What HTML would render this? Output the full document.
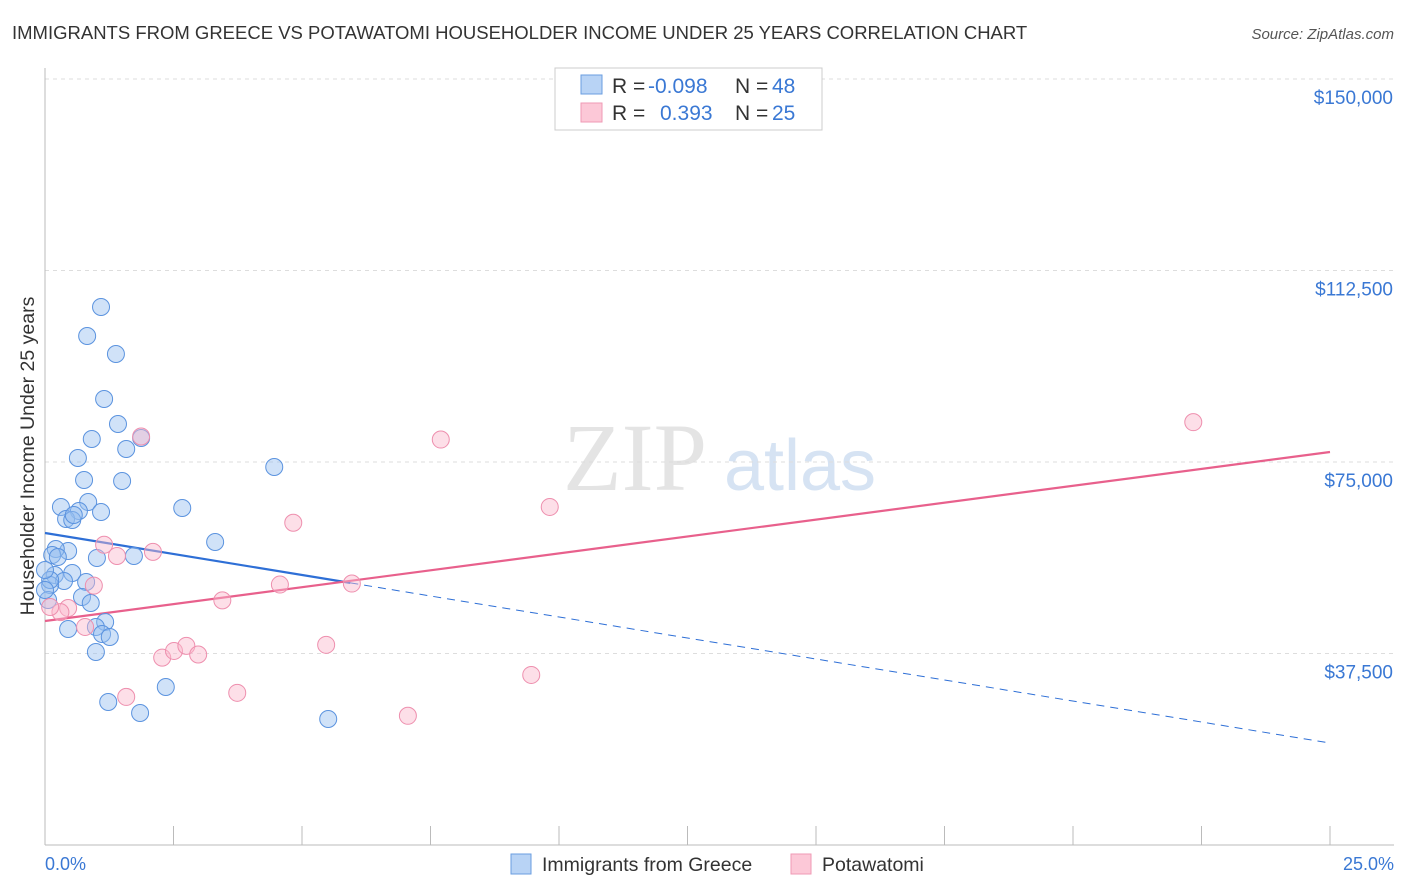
<!DOCTYPE html>
<html><head><meta charset="utf-8"><style>
body{margin:0;background:#fff;font-family:"Liberation Sans",sans-serif;}
</style></head><body>
<svg id="chart" width="1406" height="892" xmlns="http://www.w3.org/2000/svg" style="display:block">
<text x="12" y="39" font-size="18.5" fill="#333">IMMIGRANTS FROM GREECE VS POTAWATOMI HOUSEHOLDER INCOME UNDER 25 YEARS CORRELATION CHART</text>
<text x="1394" y="39" font-size="15" fill="#555" font-style="italic" text-anchor="end">Source: ZipAtlas.com</text>
<text x="635" y="490" font-size="96" fill="#e4e4e4" font-family="Liberation Serif,serif" text-anchor="middle">ZIP</text>
<text x="800" y="490" font-size="72" fill="#d6e3f3" text-anchor="middle">atlas</text>
<g id="grid"></g>
<line x1="45" y1="68" x2="45" y2="845" stroke="#bbb"/>
<line x1="45" y1="845" x2="1394" y2="845" stroke="#bbb"/>
<g id="xticks"></g>
<g id="lines"></g>
<g id="points"></g>
<text transform="translate(34,456) rotate(-90)" font-size="19.5" fill="#333" text-anchor="middle">Householder Income Under 25 years</text>
<text x="45" y="870" font-size="18" fill="#3a78d4">0.0%</text>
<text x="1394" y="870" font-size="18" fill="#3a78d4" text-anchor="end">25.0%</text>
<g>
<rect x="555" y="68" width="267" height="62" fill="#fff" stroke="#ccc"/>
<rect x="581" y="75" width="21" height="19" fill="#b8d3f5" stroke="#6a9ee0"/>
<rect x="581" y="103" width="21" height="19" fill="#fcc8d7" stroke="#ef9ab4"/>
<text x="612" y="93" font-size="21" fill="#333">R =<tspan x="648" fill="#3a78d4">-0.098</tspan><tspan x="735">N =</tspan><tspan x="772" fill="#3a78d4">48</tspan></text>
<text x="612" y="120" font-size="21" fill="#333">R =<tspan x="660" fill="#3a78d4">0.393</tspan><tspan x="735">N =</tspan><tspan x="772" fill="#3a78d4">25</tspan></text>
</g>
<g>
<rect x="511" y="854" width="20" height="20" fill="#b8d3f5" stroke="#6a9ee0"/>
<text x="542" y="871" font-size="19.5" fill="#333">Immigrants from Greece</text>
<rect x="791" y="854" width="20" height="20" fill="#fcc8d7" stroke="#ef9ab4"/>
<text x="822" y="871" font-size="19.5" fill="#333">Potawatomi</text>
</g>
</svg>
<script>
const yTicks=[37500,75000,112500,150000];
const yTickLabels=["$37,500","$75,000","$112,500","$150,000"];
const xTicks=[0,2.5,5,7.5,10,12.5,15,17.5,20,22.5,25];
const greeceX=[1.09,0.82,1.38,1.15,1.42,0.91,1.87,1.58,0.64,0.76,1.50,4.46,0.84,0.31,2.67,0.66,1.09,0.41,0.53,0.56,3.31,0.45,0.21,0.14,0.25,1.01,1.73,0.53,0.19,0.37,0.80,0.10,0.10,0.72,0.89,1.17,0.99,0.45,1.11,1.26,0.99,2.35,1.23,1.85,5.51,0.06,0.0,0.0];
const greeceY=[105350,99670,96150,87340,82440,79500,79700,77550,75780,71480,71280,74020,67170,66190,65990,65400,65210,63840,63640,64620,59330,57570,57960,56790,56400,56200,56590,53260,52870,51700,51500,50910,51890,48560,47390,43670,42690,42300,41320,40730,37790,30940,28000,25850,24670,47980,49940,53850];
const potaX=[1.87,7.7,22.34,9.82,4.83,1.15,2.1,1.4,4.57,5.97,0.95,3.45,0.45,0.3,0.78,0.1,2.28,2.51,2.75,2.98,5.47,3.74,1.58,9.46,7.06];
const potaY=[80000,79400,82800,66200,63100,58800,57400,56600,51000,51200,50800,47900,46400,45600,42700,46600,36700,38000,39000,37300,39200,29800,29000,33300,25300];
const greeceFit=[61100,19970];
const potaFit=[43860,76960];
const X0=45,X1=1330,Y0=845,YPX=191.5/37500;
const sx=v=>X0+(v/25)*(X1-X0);
const sy=v=>Y0-v*YPX;
const NS="http://www.w3.org/2000/svg";
function mk(tag,attrs,parent){const e=document.createElementNS(NS,tag);for(const k in attrs)e.setAttribute(k,attrs[k]);parent.appendChild(e);return e;}
const grid=document.getElementById('grid');
yTicks.forEach((t,i)=>{
 const l=mk('line',{x1:45,x2:1394,y1:sy(t),y2:sy(t),stroke:'#ddd','stroke-dasharray':'4,4'},grid);
 
 
 const tx=mk('text',{x:1393,y:sy(t)+25,'font-size':19,fill:'#3a78d4','text-anchor':'end'},grid);
 tx.textContent=yTickLabels[i];
 
 
});
const topLine=mk('line',{x1:45,x2:1394,y1:79,y2:79,stroke:'#ddd','stroke-dasharray':'4,4'},grid);


const xt=document.getElementById('xticks');
xTicks.forEach(t=>{
 const l=mk('line',{x1:sx(t),x2:sx(t),y1:826,y2:845,stroke:'#bbb'},xt);
 
 
});
const lines=document.getElementById('lines');
const xb=5.94;
const gy=x=>greeceFit[0]+(greeceFit[1]-greeceFit[0])*x/25;
const l1=mk('line',{x1:sx(0),y1:sy(gy(0)),x2:sx(xb),y2:sy(gy(xb)),stroke:'#2e6fd6','stroke-width':2.2},lines);


const l2=mk('line',{x1:sx(xb),y1:sy(gy(xb)),x2:sx(25),y2:sy(gy(25)),stroke:'#2e6fd6','stroke-width':1,'stroke-dasharray':'8,6'},lines);


const l3=mk('line',{x1:sx(0),y1:sy(potaFit[0]),x2:sx(25),y2:sy(potaFit[1]),stroke:'#e8608c','stroke-width':2.2},lines);


const pts=document.getElementById('points');
greeceX.forEach((x,i)=>{
 const c=mk('circle',{cx:sx(x),cy:sy(greeceY[i]),r:8.5,fill:'rgba(150,190,240,0.45)',stroke:'#5b93df','stroke-width':1},pts);
 
 
});
potaX.forEach((x,i)=>{
 const c=mk('circle',{cx:sx(x),cy:sy(potaY[i]),r:8.5,fill:'rgba(250,185,205,0.45)',stroke:'#ee8fae','stroke-width':1},pts);
 
 
});
</script>
</body></html>
